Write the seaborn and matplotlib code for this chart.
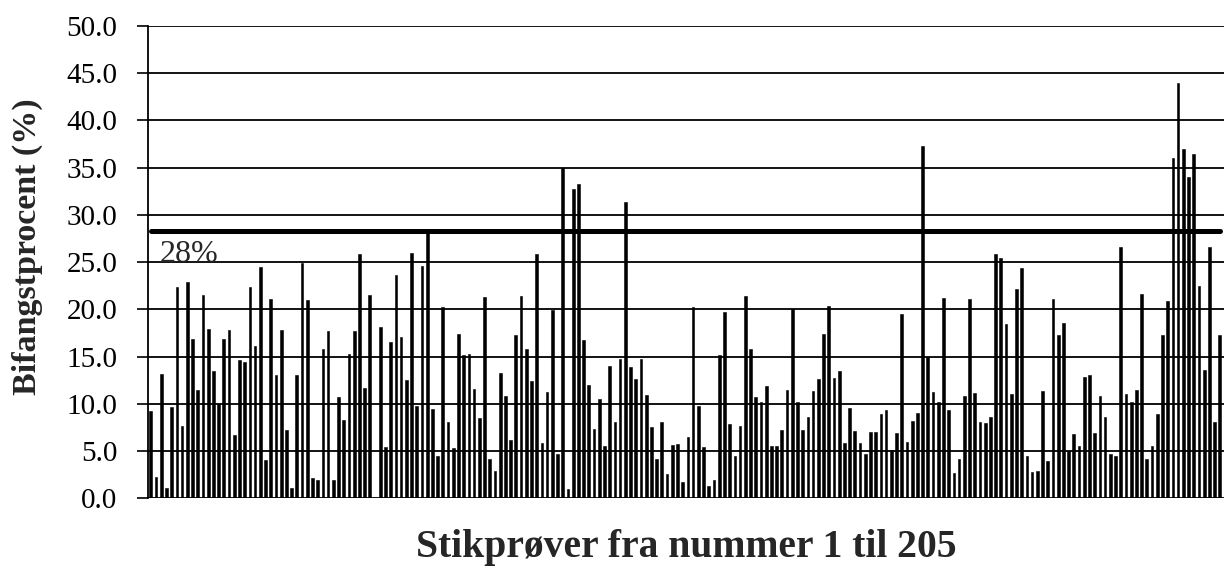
import matplotlib
matplotlib.use("Agg")
import matplotlib.pyplot as plt
import seaborn as sns

# bycatch percentage per sample
bycatch_pct = [
    9.2, 2.3, 13.2, 1.1, 9.7, 22.4, 7.7, 22.9, 16.9, 11.5, 21.5, 17.9, 13.5, 10.0,
    16.9, 17.8, 6.7, 14.6, 14.4, 22.4, 16.1, 24.5, 4.0, 21.1, 13.0, 17.8, 7.2, 1.1,
    13.0, 24.9, 21.0, 2.1, 1.9, 15.8, 17.7, 1.9, 10.7, 8.3, 15.3, 17.7, 25.9,
    11.7, 21.5, 0.0, 18.1, 5.4, 16.5, 23.6, 17.1, 12.5, 26.0, 9.8, 24.6, 28.2, 9.4,
    4.5, 20.2, 8.1, 5.3, 17.4, 15.2, 15.3, 11.6, 8.5, 21.3, 4.2, 2.9, 13.3, 10.8,
    6.2, 17.3, 21.4, 15.8, 12.4, 25.9, 5.9, 11.2, 19.9, 4.7, 35.0, 1.0, 32.7,
    33.3, 16.7, 12.0, 7.3, 10.5, 5.5, 14.0, 8.1, 14.7, 31.4, 13.9, 12.6, 14.7, 10.9,
    7.5, 4.2, 8.1, 2.6, 5.6, 5.7, 1.7, 6.5, 20.2, 9.8, 5.4, 1.3, 1.9, 15.2, 19.7,
    7.9, 4.5, 7.7, 21.4, 15.8, 10.7, 10.2, 11.9, 5.5, 5.5, 7.2, 11.5,
    20.0, 10.2, 7.2, 8.6, 11.3, 12.6, 17.4, 20.3, 12.7, 13.5, 5.9, 9.6, 7.1, 5.9,
    4.7, 7.0, 7.0, 8.9, 9.3, 5.1, 6.9, 19.5, 6.0, 8.2, 9.0, 37.3, 15.0, 11.2, 10.2,
    21.2, 9.3, 2.7, 4.2, 10.8, 21.1, 11.1, 8.1, 8.0, 8.6, 25.9, 25.4,
    18.4, 11.0, 22.1, 24.4, 4.5, 2.8, 2.9, 11.4, 3.9, 21.1, 17.3, 18.5, 5.0, 6.8,
    5.5, 12.8, 13.0, 6.9, 10.8, 8.6, 4.7, 4.5, 26.6, 11.0, 10.2, 11.5, 21.6, 4.2,
    5.5, 8.9, 17.3, 20.9, 36.0, 44.0, 37.0, 34.0, 36.4, 22.5, 13.6, 26.6, 8.1, 17.3,
]
sample_no = list(range(1, len(bycatch_pct) + 1))

threshold_pct = 28.3
threshold_label = "28%"
y_ticks = [0, 5, 10, 15, 20, 25, 30, 35, 40, 45, 50]
x_label = "Stikprøver fra nummer 1 til 205"
y_label = "Bifangstprocent (%)"

sns.set_style("white")
plt.rcParams["font.family"] = ["Liberation Serif", "DejaVu Serif"]

fig = plt.figure(figsize=(12.24, 5.76), dpi=100)
ax = fig.add_axes([0.121, 0.135, 0.879, 0.82])

# thin black edge keeps the narrow bars evenly dark after rasterising
sns.barplot(x=sample_no, y=bycatch_pct, color="black", saturation=1,
            width=0.52, edgecolor="black", linewidth=0.4, ax=ax)

ax.axhline(threshold_pct, xmin=0.003, xmax=0.996, color="black", lw=3.6, zorder=3)
ax.text(1.6, 25.0, threshold_label, fontsize=23, ha="left", va="baseline")

ax.set_xlim(-0.52, len(bycatch_pct) - 0.2)
ax.set_ylim(0, 50)
ax.set_yticks(y_ticks)
ax.set_yticklabels([f"{v:.1f}" for v in y_ticks])
ax.set_xticks([])
ax.set_xlabel("")
ax.set_ylabel("")

ax.yaxis.grid(True, color="black", lw=1.3)
ax.set_axisbelow(True)
for side in ["top", "right", "bottom"]:
    ax.spines[side].set_visible(False)
ax.spines["left"].set_color("black")
ax.spines["left"].set_linewidth(1.3)
ax.tick_params(axis="y", length=8, width=1.2, direction="out", pad=14,
               labelsize=21, colors="black", left=True)

fig.text(27 / 1224, 1 - 247 / 576, y_label, rotation=90, ha="center", va="center",
         fontsize=24.5, fontweight="bold")
fig.text(686 / 1224, 1 - 548 / 576, x_label, ha="center", va="center",
         fontsize=28.5, fontweight="bold")

fig.savefig("out.png", dpi=100)
